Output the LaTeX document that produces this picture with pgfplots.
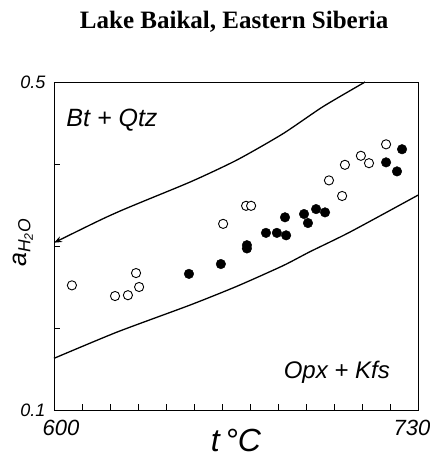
\documentclass[border=0pt]{standalone}
\usepackage{fontspec}
\setmainfont{Liberation Sans}
\newfontfamily\titlefont{Liberation Serif}
\usepackage{pgfplots}
\pgfplotsset{compat=1.18}
\usetikzlibrary{arrows.meta}

\pgfplotstableread{
x y
606.4 0.252
621.8 0.239
626.4 0.240
629.3 0.267
630.4 0.250
660.4 0.327
668.6 0.349
670.4 0.349
698.2 0.380
702.9 0.361
703.9 0.399
709.6 0.410
712.5 0.401
718.6 0.424
}\opendata

\pgfplotstableread{
x y
648.2 0.266
659.6 0.278
668.9 0.301
668.9 0.297
675.7 0.316
679.6 0.316
682.9 0.313
682.5 0.335
689.3 0.339
690.7 0.328
693.6 0.345
696.8 0.341
718.6 0.402
722.5 0.391
724.3 0.418
}\filleddata

\begin{document}
\begin{tikzpicture}
\path[use as bounding box] (-54pt,-56pt) rectangle (376pt,410pt);
\begin{axis}[
  at={(0,0)}, anchor=south west,
  scale only axis, width=364pt, height=328pt,
  xmin=600, xmax=730, ymin=0.1, ymax=0.5,
  axis line style={line width=0.9pt},
  xtick={600,610,...,730},
  xticklabels={\kern14pt 600,{},{},{},{},{},{},{},{},{},{},{},{},730\kern12pt},
  ytick={0.1,0.2,0.3,0.4,0.5},
  yticklabels={0.1,{},{},{},0.5},
  xtick pos=bottom, ytick pos=left,
  tick align=inside,
  major tick length=6pt,
  tick style={line width=0.9pt, black},
  /pgf/number format/assume math mode=true,
  x tick label style={font=\fontsize{22}{22}\selectfont\itshape, yshift=-7pt},
  y tick label style={font=\fontsize{18}{18}\selectfont\itshape, xshift=-5pt},
  xlabel={\fontsize{32}{32}\selectfont\itshape t\,°C},
  xlabel style={at={(axis description cs:0.5,-0.094)}, anchor=center},
  ylabel={\fontsize{25}{25}\selectfont\itshape a\textsubscript{H\textsubscript{2}O}},
  ylabel style={at={(axis description cs:-0.085,0.51)}, anchor=center},
  clip=false,
]
\addplot[line width=1.3pt, smooth, tension=0.4, {Stealth[length=8pt,width=6pt]}-] coordinates {
(600,0.304) (622.5,0.341) (648.6,0.378) (665.4,0.405) (681.8,0.437) (696.1,0.470) (711.1,0.5)};
\addplot[line width=1.3pt, smooth, tension=0.4] coordinates {
(600,0.163) (622.5,0.195) (648.6,0.228) (665.4,0.251) (681.8,0.276) (691.4,0.293) (705.7,0.317) (730,0.362)};
\addplot[only marks, mark=*, mark size=4.6pt, mark options={fill=white, draw=black, line width=0.9pt}] table[x=x,y=y] {\opendata};
\addplot[only marks, mark=*, mark size=4.8pt, mark options={fill=black, draw=black}] table[x=x,y=y] {\filleddata};
\node[font=\fontsize{25}{25}\selectfont\itshape] at (axis cs:620.7,0.454) {Bt + Qtz};
\node[font=\fontsize{24}{24}\selectfont\itshape] at (axis cs:701,0.146) {Opx + Kfs};
\node[font=\fontsize{25}{25}\selectfont\titlefont\bfseries] at (axis description cs:0.495,1.183) {Lake Baikal, Eastern Siberia};
\end{axis}
\end{tikzpicture}
\end{document}
